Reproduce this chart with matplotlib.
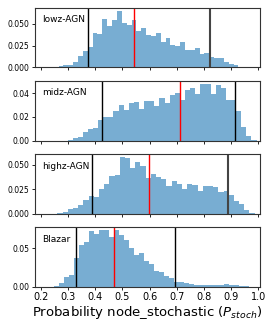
import numpy as np
import matplotlib
matplotlib.use("Agg")
import matplotlib.pyplot as plt

# Fraction of samples per bin
names = ["lowz-AGN", "midz-AGN", "highz-AGN", "Blazar"]

lowz = [0.0015, 0.0023, 0.003, 0.006, 0.0127, 0.0185, 0.0235, 0.039, 0.038, 0.055,
        0.048, 0.054, 0.065, 0.051, 0.049, 0.054, 0.042, 0.045, 0.0377, 0.0358,
        0.0396, 0.0288, 0.0338, 0.026, 0.025, 0.029, 0.020, 0.0196, 0.022, 0.0158,
        0.0165, 0.012, 0.011, 0.011, 0.006, 0.004, 0.003, 0.001]
midz = [0.0006, 0.0017, 0.003, 0.0073, 0.010, 0.011, 0.017, 0.0197, 0.0197, 0.0248,
        0.0304, 0.0256, 0.0318, 0.0327, 0.027, 0.0338, 0.0338, 0.029, 0.036, 0.0318,
        0.0383, 0.0403, 0.0346, 0.0431, 0.0445, 0.0394, 0.0479, 0.0479, 0.0394, 0.0473,
        0.0445, 0.034, 0.034, 0.0248, 0.0113, 0.0037, 0.0006]
highz = [0.0007, 0.0017, 0.0048, 0.006, 0.0085, 0.0136, 0.018, 0.017, 0.0248, 0.0306,
         0.039, 0.040, 0.058, 0.057, 0.047, 0.0527, 0.049, 0.0367, 0.041, 0.0374,
         0.035, 0.0279, 0.0333, 0.0306, 0.0255, 0.0306, 0.0296, 0.0228, 0.0282, 0.0282,
         0.0272, 0.0221, 0.0231, 0.0187, 0.0126, 0.0095, 0.0041, 0.0007]
blazar = [0.0004, 0.0043, 0.0122, 0.016, 0.0378, 0.054, 0.058, 0.0726, 0.0687, 0.0739,
          0.0739, 0.065, 0.0739, 0.0674, 0.0609, 0.050, 0.0413, 0.0435, 0.034, 0.030,
          0.0204, 0.0196, 0.0139, 0.0117, 0.0057, 0.0065, 0.0043, 0.003, 0.002, 0.002,
          0.002, 0.002, 0.002, 0.002, 0.0035, 0.0017, 0.0017, 0.0013, 0.0013]

# first bin edge and bin width of each histogram
bin_start = [0.265, 0.298, 0.261, 0.249]
bin_width = [0.0179, 0.0188, 0.0191, 0.0184]

# 5th percentile, median, 95th percentile
p_low = [0.374, 0.425, 0.389, 0.331]
p_med = [0.543, 0.711, 0.597, 0.468]
p_high = [0.821, 0.914, 0.889, 0.695]

yticks = [[0.0, 0.025, 0.05], [0.0, 0.02, 0.04], [0.0, 0.025, 0.05], [0.0, 0.05]]
xticks = [0.2, 0.3, 0.4, 0.5, 0.6, 0.7, 0.8, 0.9, 1.0]

fig, axes = plt.subplots(4, 1, figsize=(2.75, 3.3), dpi=100, sharex=True)
fig.subplots_adjust(left=0.127, right=0.945, top=0.976, bottom=0.131, hspace=0.23)

for i, (ax, heights) in enumerate(zip(axes, [lowz, midz, highz, blazar])):
    n = len(heights)
    edges = bin_start[i] + bin_width[i] * np.arange(n + 1)
    ax.hist(edges[:-1], bins=edges, weights=heights, histtype="stepfilled",
            color="C0", alpha=0.6)
    # thicker grey right-hand line on the AGN panels, as in the original
    right_col = "#444444" if i in (0, 2) else "k"
    right_lw = 1.5 if i in (0, 2) else 1.0
    ax.axvline(p_low[i], color="k", lw=1.0)
    ax.axvline(p_med[i], color="red", lw=1.0)
    ax.axvline(p_high[i], color=right_col, lw=right_lw)
    ax.text(0.03, 0.8, names[i], transform=ax.transAxes, va="center", fontsize=6.5)
    ax.set_yticks(yticks[i])
    ax.tick_params(axis="y", labelsize=5.5, length=2.5, width=0.6, pad=1.5)
    ax.tick_params(axis="x", labelsize=7, length=2.5, width=0.6, pad=1.5)
    for sp in ax.spines.values():
        sp.set_color("#333333")
        sp.set_linewidth(0.8)

axes[-1].set_xticks(xticks)
axes[-1].set_xlim(0.178, 1.006)
axes[-1].set_xlabel(r"Probability node_stochastic ($P_{stoch}$)", fontsize=9.5, labelpad=1)

plt.savefig("out.png")
